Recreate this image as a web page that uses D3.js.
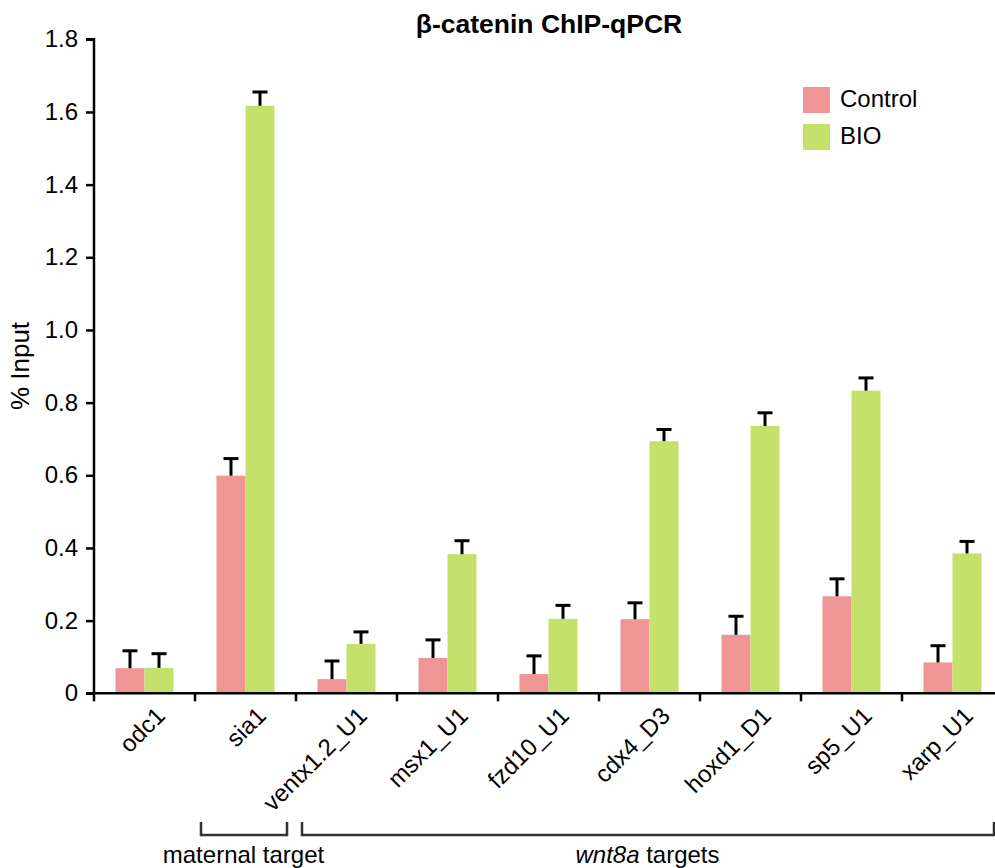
<!DOCTYPE html>
<html>
<head>
<meta charset="utf-8">
<script src="https://cdn.jsdelivr.net/npm/d3@7"></script>
<style>
    body { margin: 0; background: #fff; }
    svg { display: block; font-family: "Liberation Sans", Arial, sans-serif; }
</style>
</head>
<body>
<script>
// values
const genes = ['odc1', 'sia1', 'ventx1.2_U1', 'msx1_U1', 'fzd10_U1', 'cdx4_D3', 'hoxd1_D1', 'sp5_U1', 'xarp_U1']
const series = ['Control', 'BIO']
const controlMean = [0.069, 0.599, 0.039, 0.097, 0.053, 0.204, 0.161, 0.267, 0.085]
const controlErr  = [0.048, 0.047, 0.050, 0.050, 0.050, 0.045, 0.051, 0.048, 0.046]
const bioMean     = [0.070, 1.617, 0.136, 0.383, 0.205, 0.694, 0.736, 0.833, 0.385]
const bioErr      = [0.039, 0.038, 0.033, 0.037, 0.037, 0.032, 0.036, 0.035, 0.033]
const yTicks = [0, 0.2, 0.4, 0.6, 0.8, 1.0, 1.2, 1.4, 1.6, 1.8]
const groups = [
    {label: 'maternal target', from: 'sia1', to: 'sia1', italic: null},
    {label: ' targets', from: 'ventx1.2_U1', to: 'xarp_U1', italic: 'wnt8a'}
]

const colors = {Control: '#ef9595', BIO: '#c4e26b'}

const width = 995, height = 868
const marginLeft = 94, baseline = 693.3, yTop = 39.3

const rows = genes.map((g, i) => ({
    gene: g,
    values: [
        {key: 'Control', mean: controlMean[i], err: controlErr[i]},
        {key: 'BIO', mean: bioMean[i], err: bioErr[i]}
    ]
}))

const x = d3.scaleBand(genes, [marginLeft, marginLeft + 101 * genes.length])
const xs = d3.scaleBand(series, [0, x.bandwidth()]).paddingOuter(0.741)
const y = d3.scaleLinear([0, 1.8], [baseline, yTop])

const svg = d3.select('body').append('svg')
    .attr('width', width)
    .attr('height', height)

// title
svg.append('text')
    .attr('x', 549)
    .attr('y', 33)
    .attr('text-anchor', 'middle')
    .attr('font-size', 26.5)
    .attr('font-weight', 'bold')
    .text('β-catenin ChIP-qPCR')

// bars
const grp = svg.append('g')
    .selectAll('g')
    .data(rows)
    .join('g')
    .attr('transform', d => `translate(${x(d.gene)},0)`)

grp.selectAll('rect')
    .data(d => d.values)
    .join('rect')
    .attr('x', d => xs(d.key))
    .attr('width', xs.bandwidth())
    .attr('y', d => y(d.mean))
    .attr('height', d => y(0) - y(d.mean))
    .attr('fill', d => colors[d.key])

// error bars (upper only)
const eb = grp.selectAll('g.err')
    .data(d => d.values)
    .join('g')
    .attr('class', 'err')
    .attr('stroke', '#000')
    .attr('stroke-width', 3)

eb.append('line')
    .attr('x1', d => xs(d.key) + xs.bandwidth() / 2)
    .attr('x2', d => xs(d.key) + xs.bandwidth() / 2)
    .attr('y1', d => y(d.mean))
    .attr('y2', d => y(d.mean + d.err))

eb.append('line')
    .attr('x1', d => xs(d.key) + xs.bandwidth() / 2 - 7.5)
    .attr('x2', d => xs(d.key) + xs.bandwidth() / 2 + 7.5)
    .attr('y1', d => y(d.mean + d.err))
    .attr('y2', d => y(d.mean + d.err))

// y axis
const yAxis = svg.append('g')
    .attr('transform', `translate(${marginLeft},0)`)
    .call(d3.axisLeft(y).tickValues(yTicks).tickSize(8).tickPadding(8)
        .tickFormat(d => d === 0 ? '0' : d3.format('.1f')(d)))
yAxis.selectAll('path, line').attr('stroke', '#000').attr('stroke-width', 2.5)
yAxis.select('path').attr('d', `M-8,${yTop}H0V${baseline}`)
yAxis.selectAll('text').attr('font-size', 24).attr('font-family', 'Liberation Sans, Arial, sans-serif').attr('fill', '#000')

svg.append('text')
    .attr('transform', `translate(29,366) rotate(-90)`)
    .attr('text-anchor', 'middle')
    .attr('font-size', 26)
    .text('% Input')

// x axis: ticks at band edges, labels rotated
const xAxis = svg.append('g')
xAxis.append('line')
    .attr('x1', marginLeft - 8).attr('x2', width)
    .attr('y1', baseline).attr('y2', baseline)
    .attr('stroke', '#000').attr('stroke-width', 2.5)
xAxis.selectAll('line.tick')
    .data(genes)
    .join('line')
    .attr('class', 'tick')
    .attr('x1', d => x(d)).attr('x2', d => x(d))
    .attr('y1', baseline).attr('y2', baseline + 8)
    .attr('stroke', '#000').attr('stroke-width', 2.5)
xAxis.selectAll('text')
    .data(genes)
    .join('text')
    .attr('transform', d => `translate(${x(d) + x.bandwidth() / 2 + 10},${baseline + 12}) rotate(-45)`)
    .attr('text-anchor', 'end')
    .attr('dy', '0.7em')
    .attr('font-size', 24)
    .text(d => d)

// group brackets
const br = svg.append('g')
    .selectAll('g')
    .data(groups)
    .join('g')
br.append('path')
    .attr('fill', 'none')
    .attr('stroke', '#333')
    .attr('stroke-width', 2.5)
    .attr('d', d => {
        const x0 = x(d.from) + 6, x1 = x(d.to) + x.bandwidth() - 9
        return `M${x0},822V835H${x1}V822`
    })
br.append('text')
    .attr('x', d => (x(d.from) + x(d.to) + x.bandwidth()) / 2 - 2)
    .attr('y', 863)
    .attr('text-anchor', 'middle')
    .attr('font-size', 24)
    .each(function (d) {
        const t = d3.select(this)
        if (d.italic) t.append('tspan').attr('font-style', 'italic').text(d.italic)
        t.append('tspan').text(d.label)
    })

// legend
const lg = svg.append('g')
    .selectAll('g')
    .data(series)
    .join('g')
    .attr('transform', (d, i) => `translate(803,${87 + i * 37})`)
lg.append('rect')
    .attr('width', 27)
    .attr('height', 26)
    .attr('fill', d => colors[d])
lg.append('text')
    .attr('x', 37)
    .attr('y', 20)
    .attr('font-size', 24)
    .text(d => d)
</script>
</body>
</html>
